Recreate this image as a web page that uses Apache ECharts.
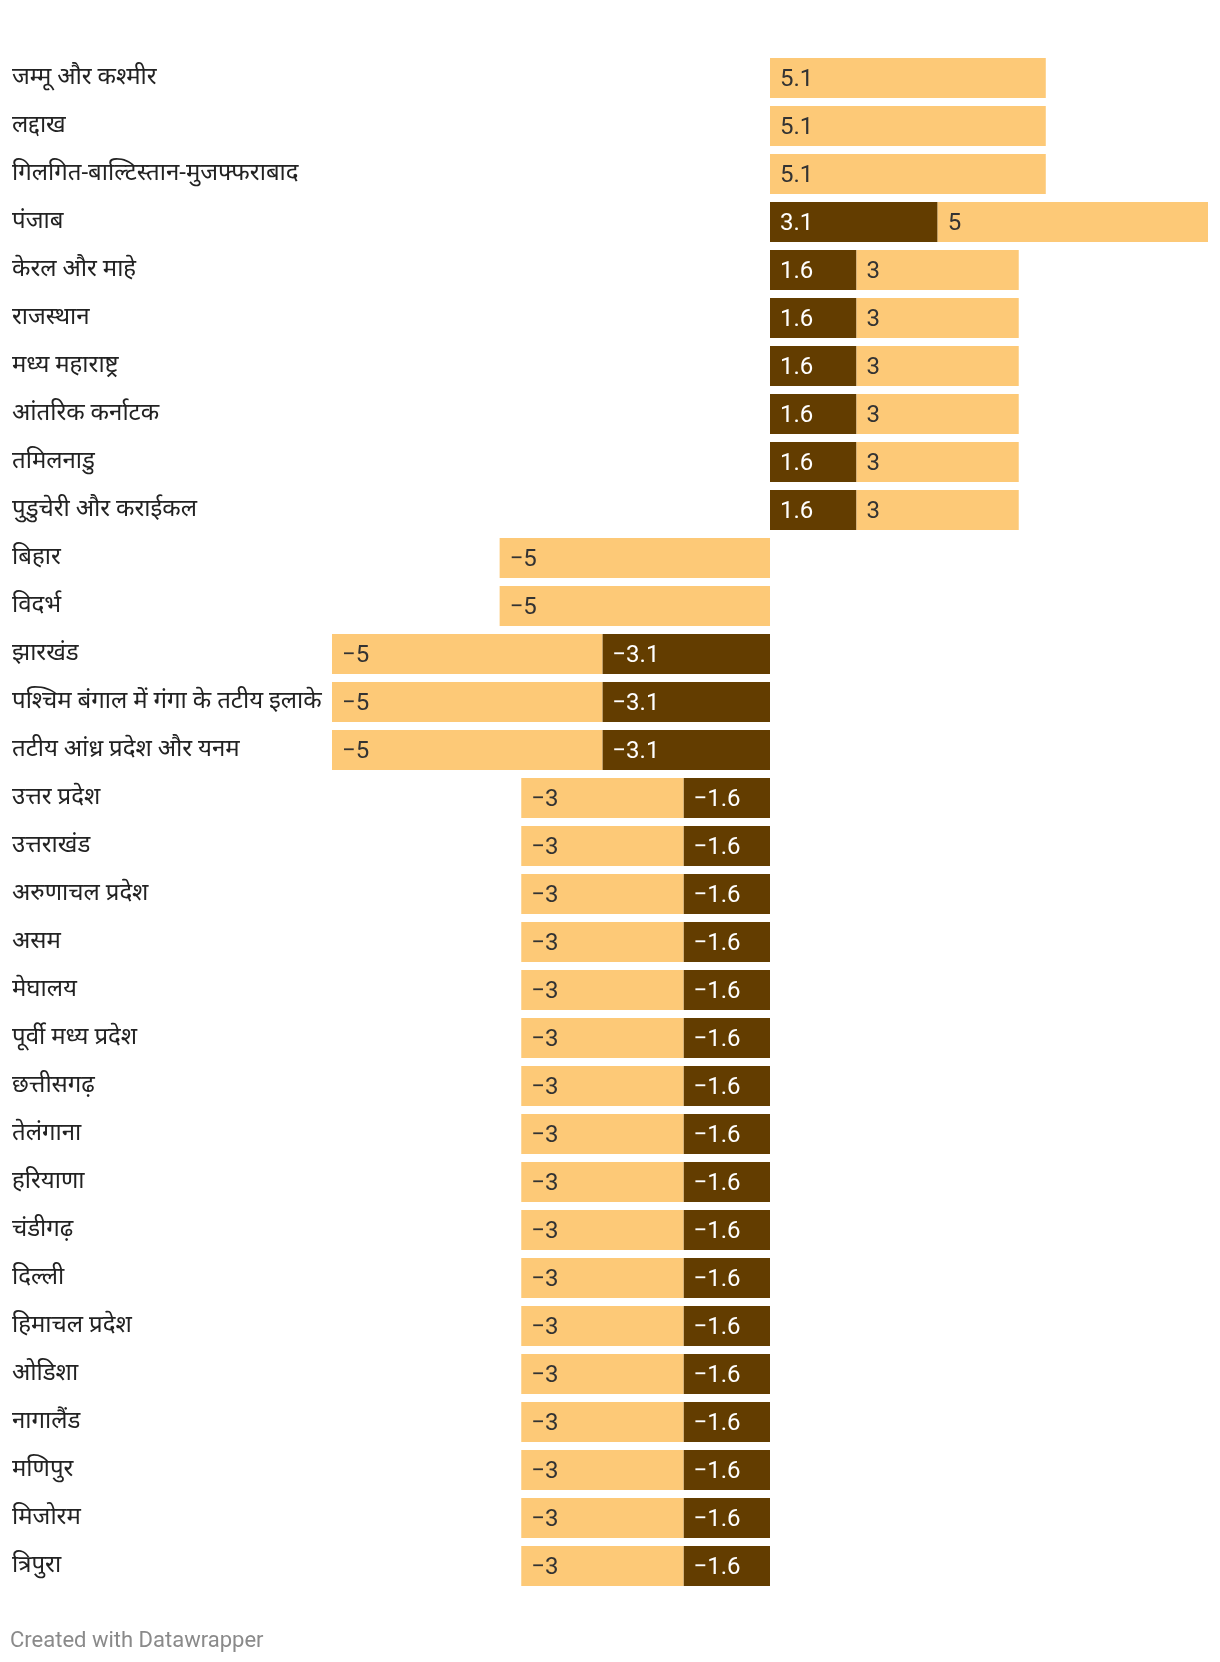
<!DOCTYPE html>
<html>
<head>
<meta charset="utf-8">
<script src="https://cdn.jsdelivr.net/npm/echarts@6/dist/echarts.min.js"></script>
<style>
html,body{margin:0;padding:0;background:#fff;}
#chart{width:1220px;height:1662px;}
</style>
</head>
<body>
<div id="chart"></div>
<script>
const categories = [
  'जम्मू और कश्मीर','लद्दाख','गिलगित-बाल्टिस्तान-मुजफ्फराबाद','पंजाब','केरल और माहे',
  'राजस्थान','मध्य महाराष्ट्र','आंतरिक कर्नाटक','तमिलनाडु','पुडुचेरी और कराईकल',
  'बिहार','विदर्भ','झारखंड','पश्चिम बंगाल में गंगा के तटीय इलाके','तटीय आंध्र प्रदेश और यनम',
  'उत्तर प्रदेश','उत्तराखंड','अरुणाचल प्रदेश','असम','मेघालय','पूर्वी मध्य प्रदेश',
  'छत्तीसगढ़','तेलंगाना','हरियाणा','चंडीगढ़','दिल्ली','हिमाचल प्रदेश','ओडिशा',
  'नागालैंड','मणिपुर','मिजोरम','त्रिपुरा'
];
const darkValues = [
  null, null, null, 3.1, 1.6, 1.6, 1.6, 1.6, 1.6, 1.6,
  null, null, -3.1, -3.1, -3.1,
  -1.6, -1.6, -1.6, -1.6, -1.6, -1.6, -1.6, -1.6, -1.6, -1.6, -1.6, -1.6, -1.6, -1.6, -1.6, -1.6, -1.6
];
const lightValues = [
  5.1, 5.1, 5.1, 5, 3, 3, 3, 3, 3, 3,
  -5, -5, -5, -5, -5,
  -3, -3, -3, -3, -3, -3, -3, -3, -3, -3, -3, -3, -3, -3, -3, -3, -3
];
const footerText = 'Created with Datawrapper';

const fmt = p => String(p.value).replace('-', '\u2212');
const chart = echarts.init(document.getElementById('chart'), null, {renderer: 'canvas'});
chart.setOption({
  animation: false,
  backgroundColor: '#ffffff',
  grid: {left: 332, right: 12, top: 54, height: 1536, containLabel: false},
  xAxis: {
    type: 'value', min: -8.1, max: 8.1,
    show: false, splitLine: {show: false}
  },
  yAxis: {
    type: 'category', data: categories, inverse: true,
    axisLine: {show: false}, axisTick: {show: false}, splitLine: {show: false},
    axisLabel: {
      align: 'left', margin: 320, fontSize: 24, color: '#222222',
      padding: [6, 0, 0, 0],
      fontFamily: 'Roboto, "Noto Sans", sans-serif'
    }
  },
  series: [
    {
      name: 'dark', type: 'bar', stack: 'total', data: darkValues, barWidth: 40,
      itemStyle: {color: '#633d00'},
      label: {show: true, position: 'insideLeft', distance: 10, offset: [0, 2], formatter: fmt,
        color: '#ffffff', fontSize: 24, fontFamily: 'Roboto, sans-serif'}
    },
    {
      name: 'light', type: 'bar', stack: 'total', data: lightValues, barWidth: 40,
      itemStyle: {color: '#fdc977'},
      label: {show: true, position: 'insideLeft', distance: 10, offset: [0, 2], formatter: fmt,
        color: '#333333', fontSize: 24, fontFamily: 'Roboto, sans-serif'}
    }
  ],
  graphic: [{
    type: 'text', x: 10, y: 1641,
    style: {text: footerText, fill: '#8a8a8a', fontSize: 22,
      fontFamily: 'Roboto, sans-serif', textVerticalAlign: 'middle'}
  }]
});
</script>
</body>
</html>
